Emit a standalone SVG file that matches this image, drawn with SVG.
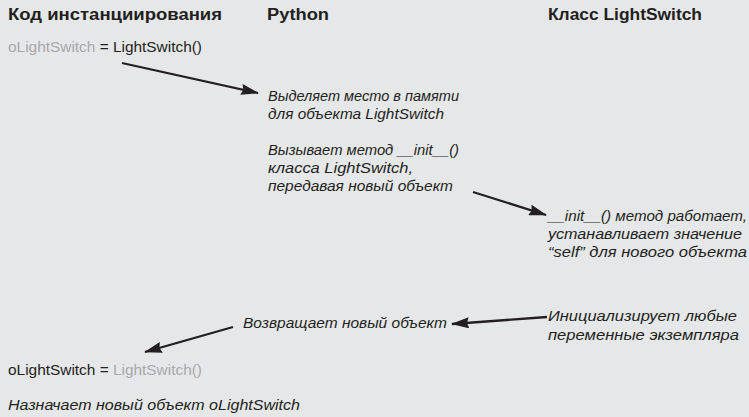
<svg xmlns="http://www.w3.org/2000/svg" width="749" height="417" viewBox="0 0 749 417">
<style>
text{font-family:"Liberation Sans","DejaVu Sans",sans-serif;fill:#231f20}
.h{font-weight:bold;font-size:16px}
.c{font-size:15px}
.g{fill:#a7a9ac}
.i{font-style:italic;font-size:15px}
.ln{stroke:#231f20;stroke-width:2.3;fill:none}
</style>
<defs>
<marker id="ah" viewBox="0 0 18 11" refX="17" refY="5.5" markerWidth="18" markerHeight="11" markerUnits="userSpaceOnUse" orient="auto">
<path d="M0,0 L18,5.5 L0,11 L2,5.5 Z" fill="#231f20"/>
</marker>
</defs>
<rect width="749" height="417" fill="#e6e7e8"/>
<g id="headers">
<text class="h" x="8" y="20" textLength="214" lengthAdjust="spacingAndGlyphs">Код инстанциирования</text>
<text class="h" x="267" y="20" textLength="62" lengthAdjust="spacingAndGlyphs">Python</text>
<text class="h" x="548" y="20" textLength="154" lengthAdjust="spacingAndGlyphs">Класс LightSwitch</text>
</g>
<g id="n-call">
<text class="c" x="8" y="52" textLength="194" lengthAdjust="spacingAndGlyphs"><tspan class="g">oLightSwitch</tspan> = LightSwitch()</text>
</g>
<g id="n-alloc">
<text class="i" x="268" y="101" textLength="191" lengthAdjust="spacingAndGlyphs">Выделяет место в памяти</text>
<text class="i" x="268" y="119" textLength="176" lengthAdjust="spacingAndGlyphs">для объекта LightSwitch</text>
</g>
<g id="n-callinit">
<text class="i" x="268" y="155" textLength="191" lengthAdjust="spacingAndGlyphs">Вызывает метод __init__()</text>
<text class="i" x="268" y="173" textLength="145" lengthAdjust="spacingAndGlyphs">класса LightSwitch,</text>
<text class="i" x="268" y="191" textLength="185" lengthAdjust="spacingAndGlyphs">передавая новый объект</text>
</g>
<g id="n-init">
<text class="i" x="548" y="221" textLength="199" lengthAdjust="spacingAndGlyphs">__init__() метод работает,</text>
<text class="i" x="548" y="239" textLength="194" lengthAdjust="spacingAndGlyphs">устанавливает значение</text>
<text class="i" x="548" y="257" textLength="199" lengthAdjust="spacingAndGlyphs">“self” для нового объекта</text>
</g>
<g id="n-vars">
<text class="i" x="548" y="321" textLength="189" lengthAdjust="spacingAndGlyphs">Инициализирует любые</text>
<text class="i" x="548" y="340" textLength="191" lengthAdjust="spacingAndGlyphs">переменные экземпляра</text>
</g>
<g id="n-return">
<text class="i" x="243" y="328" textLength="204" lengthAdjust="spacingAndGlyphs">Возвращает новый объект</text>
</g>
<g id="n-assign">
<text class="c" x="8" y="375" textLength="194" lengthAdjust="spacingAndGlyphs">oLightSwitch = <tspan class="g">LightSwitch()</tspan></text>
<text class="i" x="8" y="410" textLength="292" lengthAdjust="spacingAndGlyphs">Назначает новый объект oLightSwitch</text>
</g>
<g id="connectors">
<line class="ln" x1="122" y1="63" x2="258" y2="93" marker-end="url(#ah)"/>
<line class="ln" x1="473" y1="192" x2="546" y2="215" marker-end="url(#ah)"/>
<line class="ln" x1="547" y1="317" x2="452" y2="324" marker-end="url(#ah)"/>
<line class="ln" x1="233" y1="327" x2="145" y2="352" marker-end="url(#ah)"/>
</g>
</svg>
